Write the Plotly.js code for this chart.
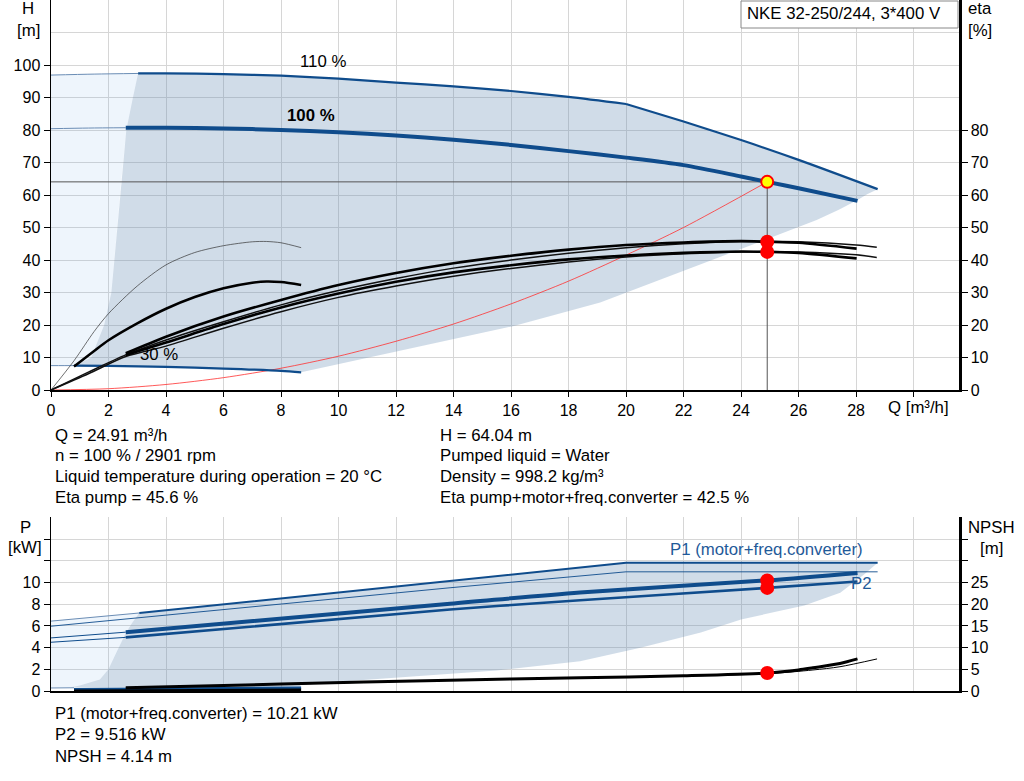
<!DOCTYPE html>
<html><head><meta charset="utf-8">
<script src="https://cdn.plot.ly/plotly-3.0.1.min.js"></script>
<style>html,body{margin:0;padding:0;background:#fff}#c{width:1024px;height:781px}</style>
</head><body><div id="c"></div>
<script>
// ---------- DATA ----------
// Operating point
const opQ = 24.91, opH = 64.04, opEtaPump = 45.6, opEtaTot = 42.5;
const opP1 = 10.21, opP2 = 9.516, opNPSH = 4.14;

// Head curves
const h110aQ = [3.03, 4, 6, 8, 10, 12, 14, 16, 18, 20];
const h110aH = [97.4, 97.4, 97.2, 96.7, 95.8, 94.6, 93.4, 92.0, 90.2, 88.0];
const h110bQ = [20, 22, 24, 26, 28.75];
const h110bH = [88.0, 82.6, 76.9, 70.8, 61.8];
const h110thinQ = [0, 1.5, 3.03];
const h110thinH = [96.9, 97.2, 97.4];
const h100Q = [2.6, 4, 6, 8, 10, 12, 14, 16, 18, 20, 22, 24, 24.91, 26, 28.05];
const h100H = [80.7, 80.7, 80.5, 80.0, 79.3, 78.3, 77.0, 75.4, 73.5, 71.5, 69.2, 65.7, 64.04, 62.1, 58.2];
const h100thinQ = [0, 1.3, 2.6];
const h100thinH = [80.4, 80.6, 80.7];
const h30Q = [0.8, 2, 4, 6, 8, 8.7];
const h30H = [7.5, 7.45, 7.1, 6.6, 5.9, 5.4];
const h30thinQ = [0, 0.8, 2];
const h30thinH = [7.5, 7.5, 7.45];

// System curve
const sysQ = [0, 2, 4, 6, 8, 10, 12, 14, 16, 18, 20, 22, 24.91];
const sysH = [0, 0.4, 1.7, 3.8, 6.7, 10.4, 15.0, 20.3, 26.5, 33.5, 41.5, 50.0, 64.04];

// Efficiency curves
const eta30thinQ = [0, 0.8, 1.5, 2, 3, 4, 5, 6, 7, 7.5, 8, 8.7];
const eta30thinE = [0, 9, 18, 23.5, 32, 38.5, 42.3, 44.4, 45.6, 45.7, 45.3, 43.8];
const eta30Q = [0.8, 1.5, 2, 3, 4, 5, 6, 7, 7.5, 8, 8.7];
const eta30E = [7.2, 12, 15.3, 20.5, 25, 28.6, 31.3, 33.0, 33.4, 33.2, 32.3];
const etaPumpQ = [2.6, 4, 6, 8, 10, 12, 14, 16, 18, 20, 22, 24, 24.91, 26, 28.02];
const etaPumpE = [11.3, 16.4, 22.6, 27.7, 32.3, 36.0, 39.0, 41.3, 43.2, 44.6, 45.4, 45.8, 45.6, 45.3, 43.5];
const etaTotQ = [2.6, 4, 6, 8, 10, 12, 14, 16, 18, 20, 22, 24, 24.91, 26, 28.02];
const etaTotE = [10.8, 14.6, 20.3, 25.4, 29.7, 33.3, 36.2, 38.4, 40.2, 41.4, 42.2, 42.6, 42.5, 42.2, 40.5];
const etaPumpThinQ = [0, 1.3, 2.6, 4, 6, 8, 10, 12, 14, 16, 18, 20, 22, 24, 26, 28, 28.72];
const etaPumpThinE = [0, 5.5, 10.8, 15.4, 21.0, 26.2, 30.6, 34.3, 37.5, 40.0, 42.1, 43.8, 45.0, 45.7, 45.6, 44.6, 43.9];
const etaTotThinQ = [0, 1.3, 2.6, 4, 6, 8, 10, 12, 14, 16, 18, 20, 22, 24, 26, 28, 28.72];
const etaTotThinE = [0, 5.0, 10.3, 13.5, 19.0, 24.1, 28.5, 32.0, 35.0, 37.4, 39.4, 40.9, 41.9, 42.5, 42.5, 41.6, 40.8];

// Shaded operating areas (top)
const areaTopQ = [3.03, 4, 6, 8, 10, 12, 14, 16, 18, 20, 22, 24, 26, 28.75, 28.4, 28.05, 27.4, 26.63, 24, 22, 19.1, 16, 13.9, 11, 8.66, 8, 6, 4, 2, 0.8, 1.4, 1.85, 2.1, 2.26, 2.35, 2.45, 2.62, 2.85, 3.03];
const areaTopH = [97.4, 97.4, 97.2, 96.7, 95.8, 94.6, 93.4, 92.0, 90.2, 88.0, 82.6, 76.9, 70.8, 61.8, 60.3, 58.5, 55.5, 52.3, 43.4, 36.7, 26.9, 19.5, 15.5, 10.0, 5.4, 5.9, 6.6, 7.1, 7.45, 7.5, 10, 20, 30, 45, 55, 65, 80, 90, 97.4];
const lightTopQ = [0, 1.5, 3.03, 2.85, 2.62, 2.45, 2.35, 2.26, 2.1, 1.85, 1.4, 0.8, 0];
const lightTopH = [96.9, 97.2, 97.4, 90, 80, 65, 55, 45, 30, 20, 10, 7.5, 7.5];

// Power curves
const p1_110Q = [3.07, 20, 28.75];
const p1_110P = [7.2, 11.84, 11.84];
const p1_110thinQ = [0, 3.07];
const p1_110thinP = [6.45, 7.2];
const p2_110Q = [0, 13.88, 20, 28.75];
const p2_110P = [5.98, 9.53, 11.0, 11.0];
const p1_100Q = [2.6, 13.88, 18.4, 24.91, 28.05];
const p1_100P = [5.43, 8.05, 9.1, 10.21, 10.9];
const p1_100thinQ = [0, 2.6];
const p1_100thinP = [4.9, 5.43];
const p2_100Q = [2.6, 13.88, 18.4, 24.91, 28.05];
const p2_100P = [4.95, 7.52, 8.38, 9.516, 10.1];
const p2_100thinQ = [0, 2.6];
const p2_100thinP = [4.5, 4.95];
const p30Q = [0.8, 2.6, 8.7];
const p30P = [0.17, 0.2, 0.3];
const p30thinQ = [0, 0.8];
const p30thinP = [0.28, 0.3];

// NPSH curves
const npsh100Q = [2.6, 8, 13.88, 18.4, 22, 24.91, 26, 26.5, 27.44, 28.05];
const npsh100N = [0.75, 1.6, 2.5, 3.04, 3.5, 4.14, 4.85, 5.35, 6.35, 7.4];
const npsh110Q = [2.6, 13.88, 18.4, 24.91, 26.5, 27.44, 28.73];
const npsh110N = [0.7, 2.45, 3.0, 4.0, 4.85, 5.6, 7.4];
const npsh30Q = [0.8, 8.7];
const npsh30N = [0.05, 0.3];

// Shaded area (bottom)
const areaBotQ = [3.07, 20, 28.75, 28.3, 27.45, 26.2, 24, 22.6, 20.5, 18.4, 15.5, 12.1, 8.66, 8.7, 0.66, 1.0, 1.7, 2.0, 2.28, 2.61, 2.85, 3.07];
const areaBotP = [7.2, 11.84, 11.84, 10.8, 9.07, 7.9, 6.6, 5.4, 4.0, 2.75, 1.9, 1.25, 0.6, 0.3, 0.32, 0.5, 1.06, 2.0, 3.5, 5.4, 6.4, 7.2];
const lightBotQ = [0, 3.07, 2.85, 2.61, 2.28, 2.0, 1.7, 1.0, 0.66, 0];
const lightBotP = [6.45, 7.2, 6.4, 5.4, 3.5, 2.0, 1.06, 0.5, 0.32, 0.3];

// Tick values
const qTicks = [0,2,4,6,8,10,12,14,16,18,20,22,24,26,28,30];
const qTickText = ['0','2','4','6','8','10','12','14','16','18','20','22','24','26','28',''];
const hTicks = [0,10,20,30,40,50,60,70,80,90,100];
const etaTicks = [0,10,20,30,40,50,60,70,80];
const pTicks = [0,2,4,6,8,10,12,14];
const pTickText = ['0','2','4','6','8','10','',''];
const nTicks = [0,5,10,15,20,25,30,35];
const nTickText = ['0','5','10','15','20','25','',''];

// Texts
const title = 'NKE 32-250/244, 3*400 V';
const infoLeft = ['Q = 24.91 m³/h', 'n = 100 % / 2901 rpm', 'Liquid temperature during operation = 20 °C', 'Eta pump = 45.6 %'];
const infoRight = ['H = 64.04 m', 'Pumped liquid = Water', 'Density = 998.2 kg/m³', 'Eta pump+motor+freq.converter = 42.5 %'];
const infoBottom = ['P1 (motor+freq.converter) = 10.21 kW', 'P2 = 9.516 kW', 'NPSH = 4.14 m'];

// ---------- STYLE ----------
const FONT = 'Liberation Sans, Arial, sans-serif';
const TXT = 16.8, TICK = 16;
const BLUE = '#0f4c8c';
const BLUE_THIN = '#6b8db5';
const DARK_FILL = 'rgba(98,138,178,0.30)';
const LIGHT_FILL = 'rgba(85,155,225,0.10)';
const GRID = '#d6d6d6';

function ln(x, y, xa, ya, color, w, smooth) {
  return {x: x, y: y, xaxis: xa, yaxis: ya, type: 'scatter', mode: 'lines',
    line: smooth ? {color: color, width: w, shape: 'spline', smoothing: 0.8} : {color: color, width: w},
    hoverinfo: 'skip', showlegend: false};
}
function area(x, y, xa, ya, fill) {
  return {x: x, y: y, xaxis: xa, yaxis: ya, type: 'scatter', mode: 'lines', fill: 'toself',
    fillcolor: fill, line: {width: 0}, hoverinfo: 'skip', showlegend: false};
}
function dot(x, y, xa, ya, col, border) {
  return {x: [x], y: [y], xaxis: xa, yaxis: ya, type: 'scatter', mode: 'markers',
    marker: {size: 12, color: col, line: {color: border, width: 2}}, hoverinfo: 'skip', showlegend: false};
}

const traces = [
  area(lightTopQ, lightTopH, 'x', 'y', LIGHT_FILL),
  area(areaTopQ, areaTopH, 'x', 'y', DARK_FILL),
  area(lightBotQ, lightBotP, 'x2', 'y3', LIGHT_FILL),
  area(areaBotQ, areaBotP, 'x2', 'y3', DARK_FILL),
  // operating point guide lines
  ln([0, opQ], [opH, opH], 'x', 'y', '#555', 1),
  ln([opQ, opQ], [0, opH], 'x', 'y', '#555', 1),
  // system curve
  ln(sysQ, sysH, 'x', 'y', '#ff3030', 0.8, true),
  // head curves
  ln(h110thinQ, h110thinH, 'x', 'y', BLUE_THIN, 1, true),
  ln(h110aQ, h110aH, 'x', 'y', BLUE, 2.2, true),
  ln(h110bQ, h110bH, 'x', 'y', BLUE, 2.2, true),
  ln(h100thinQ, h100thinH, 'x', 'y', BLUE_THIN, 1, true),
  ln(h100Q, h100H, 'x', 'y', BLUE, 4, true),
  ln(h30thinQ, h30thinH, 'x', 'y', BLUE_THIN, 1, true),
  ln(h30Q, h30H, 'x', 'y', BLUE, 2.2, true),
  // efficiency curves
  ln(eta30thinQ, eta30thinE, 'x', 'y2', '#333', 0.7, true),
  ln(eta30Q, eta30E, 'x', 'y2', '#000', 2.5, true),
  ln(etaPumpThinQ, etaPumpThinE, 'x', 'y2', '#111', 1.5, true),
  ln(etaTotThinQ, etaTotThinE, 'x', 'y2', '#111', 1.5, true),
  ln(etaPumpQ, etaPumpE, 'x', 'y2', '#000', 2.6, true),
  ln(etaTotQ, etaTotE, 'x', 'y2', '#000', 2.6, true),
  // power curves
  ln(p1_110thinQ, p1_110thinP, 'x2', 'y3', BLUE_THIN, 1),
  ln(p1_110Q, p1_110P, 'x2', 'y3', BLUE, 2),
  ln(p2_110Q, p2_110P, 'x2', 'y3', BLUE, 0.9),
  ln(p1_100thinQ, p1_100thinP, 'x2', 'y3', BLUE, 1),
  ln(p1_100Q, p1_100P, 'x2', 'y3', BLUE, 4, true),
  ln(p2_100thinQ, p2_100thinP, 'x2', 'y3', BLUE, 1),
  ln(p2_100Q, p2_100P, 'x2', 'y3', BLUE, 2.6, true),
  ln(p30thinQ, p30thinP, 'x2', 'y3', BLUE_THIN, 1),
  ln(p30Q, p30P, 'x2', 'y3', BLUE, 2.5),
  // NPSH curves
  ln(npsh30Q, npsh30N, 'x2', 'y4', '#000', 2.5),
  ln(npsh110Q, npsh110N, 'x2', 'y4', '#000', 1, true),
  ln(npsh100Q, npsh100N, 'x2', 'y4', '#000', 3, true),
  // markers
  dot(opQ, opH, 'x', 'y', '#ffff00', '#ff0000'),
  dot(opQ, opEtaPump, 'x', 'y2', '#ff0000', '#ff0000'),
  dot(opQ, opEtaTot, 'x', 'y2', '#ff0000', '#ff0000'),
  dot(opQ, opP1, 'x2', 'y3', '#ff0000', '#ff0000'),
  dot(opQ, opP2, 'x2', 'y3', '#ff0000', '#ff0000'),
  dot(opQ, opNPSH, 'x2', 'y4', '#ff0000', '#ff0000')
];

// ---------- LAYOUT ----------
const W = 1024, H = 781, L = 51, R = 65, T = 0, B = 90;
const PW = W - L - R, PH = H - T - B;
const px = v => (v - L) / PW;
const py = v => (PH + T - v) / PH;
const topDom = [py(390), 1];
const botDom = [0, py(517)];

const tickFont = {family: FONT, size: TICK, color: '#000'};
const baseX = {range: [0, 31.58], tickvals: qTicks, ticktext: qTickText, showgrid: true, gridcolor: GRID, gridwidth: 1,
  zeroline: false, showline: true, linecolor: '#000', linewidth: 2, ticks: 'outside', ticklen: 5, tickcolor: '#000',
  tickfont: tickFont, fixedrange: true};

const annotations = [];
function txt(text, xpx, ypx, opts) {
  annotations.push(Object.assign({text: text, xref: 'paper', yref: 'paper', x: px(xpx), y: py(ypx),
    xanchor: 'left', yanchor: 'middle', showarrow: false, font: {family: FONT, size: TXT, color: '#000'}}, opts || {}));
}
txt('H', 28, 9, {xanchor: 'center'});
txt('[m]', 28, 30, {xanchor: 'center'});
txt('eta', 980, 9, {xanchor: 'center'});
txt('[%]', 980, 30, {xanchor: 'center'});
txt('Q [m³/h]', 886, 407);
txt('P', 25, 527, {xanchor: 'center'});
txt('[kW]', 25, 547, {xanchor: 'center'});
txt('NPSH', 991, 527, {xanchor: 'center'});
txt('[m]', 991, 548, {xanchor: 'center'});
txt(title, 745, 14);
infoLeft.forEach((t, i) => txt(t, 53, 435 + i * 20.8));
infoRight.forEach((t, i) => txt(t, 438, 435 + i * 20.8));
infoBottom.forEach((t, i) => txt(t, 53, 713 + i * 21.5));

// curve labels in data coordinates
const lab = (text, xr, yr, x, y, col) => annotations.push({text: text, xref: xr, yref: yr, x: x, y: y, showarrow: false,
  font: {family: FONT, size: TXT, color: col || '#000'}});
lab('110 %', 'x', 'y', 9.45, 101.2);
lab('<b>100 %</b>', 'x', 'y', 9.05, 84.6);
lab('30 %', 'x', 'y', 3.75, 10.8);
lab('P1 (motor+freq.converter)', 'x2', 'y3', 24.9, 13.05, '#1f5a99');
lab('P2', 'x2', 'y3', 28.2, 9.95, '#1f5a99');

const layout = {
  width: W, height: H, margin: {l: L, r: R, t: T, b: B, pad: 0},
  paper_bgcolor: '#fff', plot_bgcolor: '#fff', showlegend: false,
  font: {family: FONT, size: TXT, color: '#000'},
  xaxis: Object.assign({}, baseX, {domain: [0, 1], anchor: 'y'}),
  yaxis: {domain: topDom, anchor: 'x', range: [0, 120], tickvals: hTicks, showgrid: true, gridcolor: GRID,
    zeroline: false, showline: true, linecolor: '#000', linewidth: 1.5, ticks: 'outside', ticklen: 6, tickcolor: '#000',
    tickfont: tickFont, fixedrange: true,
    minor: {tickvals: [110, 120], showgrid: true, gridcolor: GRID, ticks: ''}},
  yaxis2: {overlaying: 'y', side: 'right', anchor: 'x', range: [0, 120], tickvals: etaTicks, showgrid: false,
    zeroline: false, showline: true, linecolor: '#000', linewidth: 2.5, ticks: 'outside', ticklen: 6, tickcolor: '#000',
    tickfont: tickFont, fixedrange: true},
  xaxis2: Object.assign({}, baseX, {domain: [0, 1], anchor: 'y3', showticklabels: false, ticks: ''}),
  yaxis3: {domain: botDom, anchor: 'x2', range: [0, 16.06], tickvals: pTicks, ticktext: pTickText, showgrid: true,
    gridcolor: GRID, zeroline: false, showline: true, linecolor: '#000', linewidth: 1.5, ticks: 'outside', ticklen: 6,
    tickcolor: '#000', tickfont: tickFont, fixedrange: true,
    minor: {tickvals: [16], showgrid: true, gridcolor: GRID, ticks: ''}},
  yaxis4: {overlaying: 'y3', side: 'right', anchor: 'x2', range: [0, 40.15], tickvals: nTicks, ticktext: nTickText,
    showgrid: false, zeroline: false, showline: true, linecolor: '#000', linewidth: 2.5, ticks: 'outside', ticklen: 6,
    tickcolor: '#000', tickfont: tickFont, fixedrange: true},
  shapes: [{type: 'rect', xref: 'paper', yref: 'paper', x0: px(741), x1: px(958), y0: py(28), y1: py(1),
    line: {color: '#888', width: 1}, fillcolor: '#fff', layer: 'above'}],
  annotations: annotations
};

Plotly.newPlot('c', traces, layout, {displayModeBar: false, staticPlot: true});
</script>
</body></html>
